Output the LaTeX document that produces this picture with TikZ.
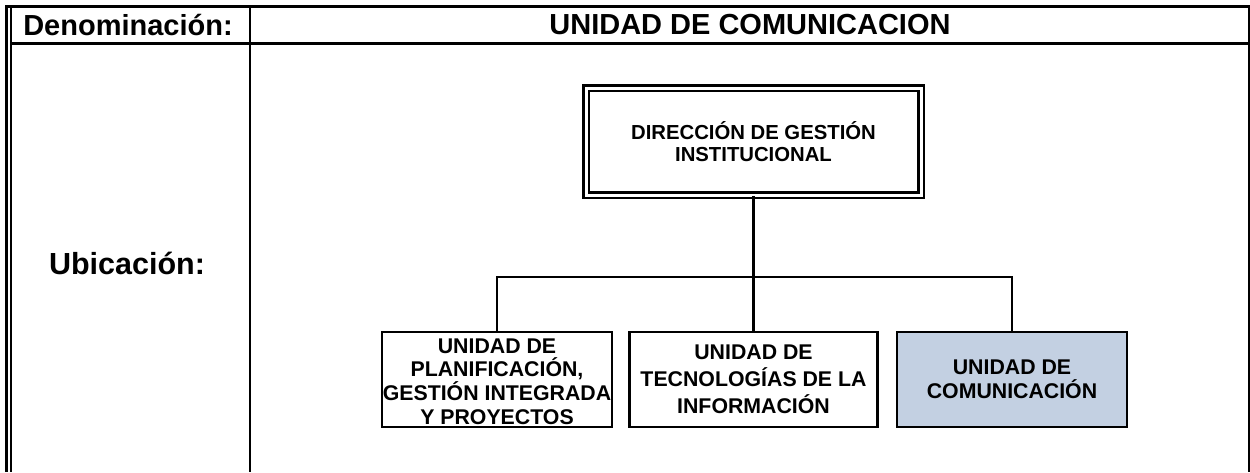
\documentclass[tikz,border=0pt]{standalone}
\usepackage{fontspec}
\setmainfont{Liberation Sans}
\usepackage{xcolor}
\usetikzlibrary{positioning}
\definecolor{celeste}{HTML}{C3D0E2}

\tikzset{
  marco/.style={line width=2.5pt},
  cabecera/.style={font=\bfseries\fontsize{29}{32}\selectfont, inner sep=0pt},
  unidad/.style={draw, line width=2.8pt, minimum height=95pt, align=center,
    inner sep=0pt, font=\bfseries\fontsize{21.3}{24.5}\selectfont},
  enlace/.style={line width=2.8pt},
}

\begin{document}
\begin{tikzpicture}[x=1pt, y=-1pt]
\useasboundingbox (0,0) rectangle (1250,472);
%%%%% Tabla %%%%%
\draw[line width=3.5pt] (5,6.5)--(1250,6.5);
\draw[marco] (6.5,5)--(6.5,472);
\draw[line width=2pt] (11,8)--(11,472);
\draw[marco] (11,43.5)--(1249,43.5);
\draw[marco] (250,8)--(250,472);
\draw[marco] (1248.8,8)--(1248.8,472);
\node[cabecera] (denominacion) at (128,25) {Denominación:};
\node[cabecera] (nombre) at (750,25) {UNIDAD DE COMUNICACION};
\node[cabecera, font=\bfseries\fontsize{30.5}{33}\selectfont] (ubicacion) at (127,263) {Ubicación:};
%%%%% Organigrama %%%%%
\node[unidad, double, line width=2.8pt, double distance=3pt, minimum width=335pt,
  minimum height=107pt, font=\bfseries\fontsize{20.3}{22}\selectfont]
  (direccion) at (753.5,141.5) {DIRECCIÓN DE GESTIÓN\\INSTITUCIONAL};
\node[unidad, minimum width=230pt] (planificacion) at (497,379.5) {};
\node[align=center, inner sep=0pt, font=\bfseries\fontsize{21.3}{23.8}\selectfont]
  (planificacion texto) at ([yshift=-2pt]planificacion.center)
  {UNIDAD DE\\PLANIFICACIÓN,\\GESTIÓN INTEGRADA\\Y PROYECTOS};
\node[unidad, minimum width=248pt, font=\bfseries\fontsize{21.3}{27}\selectfont]
  (tecnologias) at (753.5,379.5) {UNIDAD DE\\TECNOLOGÍAS DE LA\\INFORMACIÓN};
\node[unidad, minimum width=230pt, fill=celeste] (comunicacion) at (1012,379.5)
  {UNIDAD DE\\COMUNICACIÓN};
\coordinate (bus) at (753.5,277);
\draw[enlace] (direccion.south)--(bus);
\draw[enlace] (planificacion.north) |- (bus) -| (comunicacion.north);
\draw[enlace] (tecnologias.north)--(bus);
\end{tikzpicture}
\end{document}
